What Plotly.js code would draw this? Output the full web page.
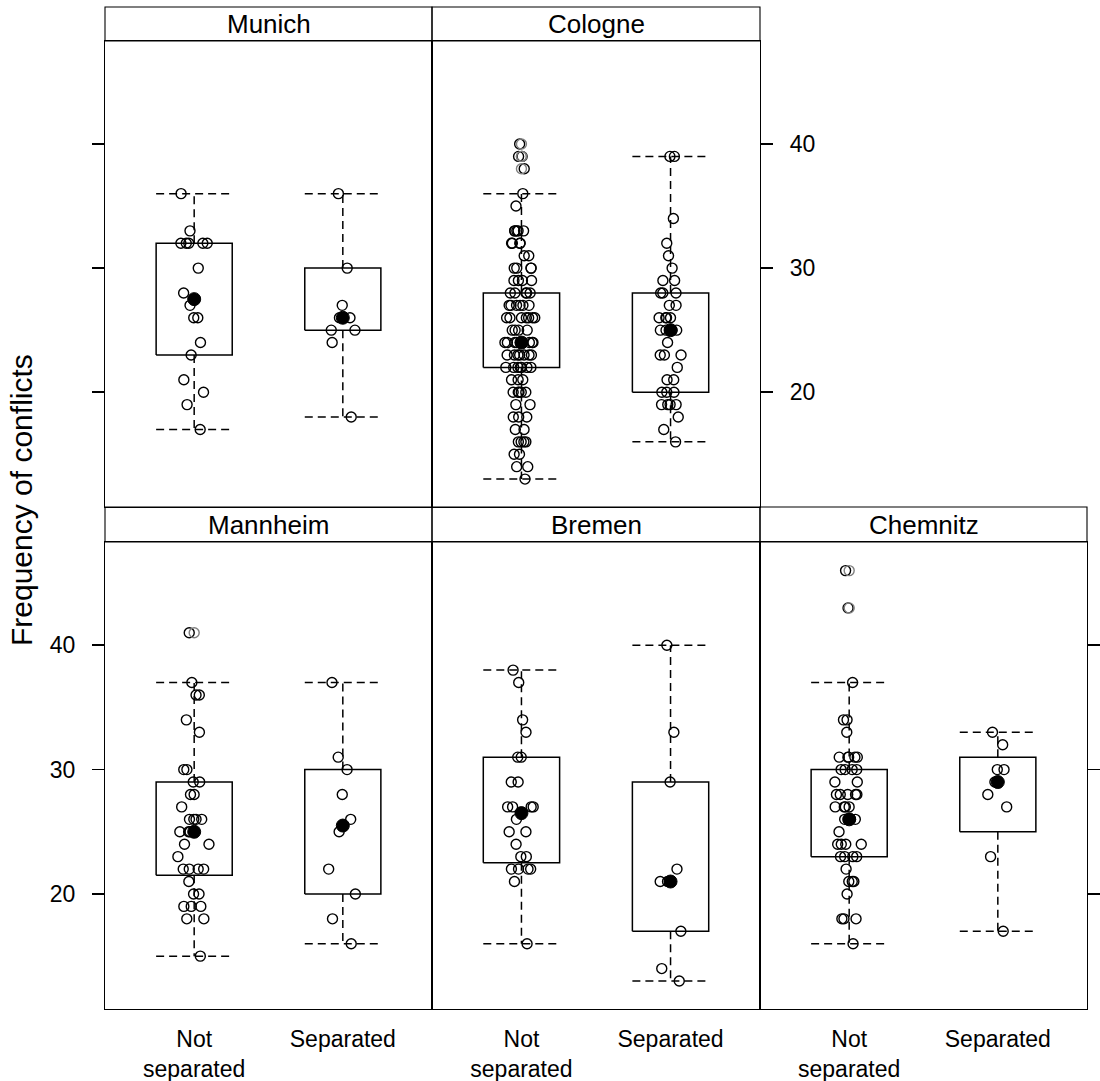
<!DOCTYPE html>
<html>
<head>
<meta charset="utf-8">
<script src="https://cdn.plot.ly/plotly-3.0.1.min.js"></script>
<style>
  html, body { margin: 0; padding: 0; background: #fff; }
  #chart { width: 1100px; height: 1081px; }
</style>
</head>
<body>
<div id="chart"></div>
<script>
// Panels, in drawing order
const cities = ["Munich", "Cologne", "Mannheim", "Bremen", "Chemnitz"];
const groupLabels = ["Not<br>separated", "Separated"];
const groupPos = [1, 2];
const yTicks = [20, 30, 40];

// Frequency of conflicts reported by each couple
const munichNot = [36, 33, 32, 32, 32, 32, 32, 30, 28, 27, 26, 26, 24, 23, 21, 20, 19, 17];
const munichSep = [36, 30, 27, 26, 26, 25, 25, 24, 18];
const cologneNot = [40, 39, 39, 38, 36, 35,
  33, 33, 33, 33, 33, 32, 32, 32, 32, 31, 31, 30, 30, 30, 30,
  29, 29, 29, 29, 28, 28, 28, 28, 28, 27, 27, 27, 27, 27, 27,
  26, 26, 26, 26, 26, 26, 26, 25, 25, 25, 25,
  24, 24, 24, 24, 24, 24, 24, 24, 23, 23, 23, 23, 23, 23, 23,
  22, 22, 22, 22, 22, 22, 22, 21, 21, 21, 20, 20, 20, 20, 20,
  19, 19, 18, 18, 18, 17, 17, 16, 16, 16, 16, 15, 15, 14, 14, 13];
const cologneSep = [39, 39, 34, 32, 31, 30, 29, 29, 28, 28, 28, 27, 27, 26, 26, 26, 26,
  25, 25, 25, 25, 25, 24, 23, 23, 23, 22, 21, 21, 20, 20, 20, 19, 19, 19, 19, 18, 17, 16];
const mannheimNot = [41, 37, 36, 36, 34, 33, 30, 30, 29, 29, 28, 28, 27, 26, 26, 26, 26,
  25, 25, 25, 24, 24, 23, 22, 22, 22, 22, 21, 20, 20, 19, 19, 19, 18, 18, 15];
const mannheimSep = [37, 31, 30, 28, 26, 25, 22, 20, 18, 16];
const bremenNot = [38, 37, 34, 33, 31, 31, 29, 29, 27, 27, 27, 27, 26, 25, 25, 24,
  23, 23, 22, 22, 22, 22, 21, 16];
const bremenSep = [40, 33, 29, 22, 21, 21, 17, 14, 13];
const chemnitzNot = [46, 43, 37, 34, 34, 33, 31, 31, 31, 31, 31, 30, 30, 30, 30, 29, 29,
  28, 28, 28, 28, 28, 27, 27, 27, 27, 26, 26, 26, 26, 25, 24, 24, 24, 24,
  23, 23, 23, 23, 22, 21, 21, 21, 20, 18, 18, 18, 16];
const chemnitzSep = [33, 32, 30, 30, 29, 28, 27, 23, 17];

// Box summaries per city: [not separated, separated]
const whiskerLow  = [[17, 18], [13, 16], [15, 16], [16, 13], [16, 17]];
const hingeLow    = [[23, 25], [22, 20], [21.5, 20], [22.5, 17], [23, 25]];
const medians     = [[27.5, 26], [24, 25], [25, 25.5], [26.5, 21], [26, 29]];
const hingeHigh   = [[32, 30], [28, 28], [29, 30], [31, 29], [30, 31]];
const whiskerHigh = [[36, 36], [36, 39], [37, 37], [38, 40], [37, 33]];

const counts = [
  [munichNot, munichSep],
  [cologneNot, cologneSep],
  [mannheimNot, mannheimSep],
  [bremenNot, bremenSep],
  [chemnitzNot, chemnitzSep]
];

// ---- page geometry (pixels) ----
const W = 1100, H = 1081;
const FONT = "Liberation Sans, Arial, Helvetica, sans-serif";
const cols = [[105, 432], [432, 760], [760, 1087]];
const rows = [
  { strip: [7, 41], body: [41, 507] },
  { strip: [507, 542], body: [542, 1009] }
];
const cells = [[0, 0], [0, 1], [1, 0], [1, 1], [1, 2]];   // [row, col] of each city
const yTickSetup = [
  { ticks: "outside", side: "left", labels: false },
  { ticks: "outside", side: "right", labels: true },
  { ticks: "outside", side: "left", labels: true },
  { ticks: "", side: "left", labels: false },
  { ticks: "outside", side: "right", labels: false }
];
const halfBox = 0.256;
const LINE_W = 1.5;
const FRAME_W = 1.1;

const px = v => v / W;
const py = v => 1 - v / H;

const traces = [];
const layout = {
  width: W, height: H,
  margin: { l: 0, r: 0, t: 0, b: 0 },
  paper_bgcolor: "#fff", plot_bgcolor: "#fff",
  showlegend: false,
  font: { family: FONT, color: "#000" },
  shapes: [], annotations: []
};

cities.forEach((city, k) => {
  const [r, c] = cells[k];
  const s = k === 0 ? "" : String(k + 1);
  const tick = yTickSetup[k];

  layout["xaxis" + s] = {
    domain: [px(cols[c][0]), px(cols[c][1])],
    anchor: "y" + s, type: "linear", range: [0.4, 2.6],
    showgrid: false, zeroline: false,
    showline: true, mirror: true, linecolor: "#000", linewidth: FRAME_W,
    ticks: "", tickvals: groupPos, ticktext: groupLabels,
    showticklabels: r === 1, ticklabelstandoff: 9,
    tickfont: { family: FONT, size: 23, color: "#000" }
  };
  layout["yaxis" + s] = {
    domain: [py(rows[r].body[1]), py(rows[r].body[0])],
    anchor: "x" + s, type: "linear", range: [10.75, 48.3],
    showgrid: false, zeroline: false,
    showline: true, mirror: true, linecolor: "#000", linewidth: FRAME_W,
    ticks: tick.ticks, side: tick.side, ticklen: 12, tickwidth: LINE_W, tickcolor: "#000",
    tickvals: yTicks, showticklabels: tick.labels, ticklabelstandoff: 12,
    tickfont: { family: FONT, size: 23, color: "#000" }
  };

  // strip with the city name
  layout.shapes.push({
    type: "rect", xref: "paper", yref: "paper",
    x0: px(cols[c][0]), x1: px(cols[c][1]),
    y0: py(rows[r].strip[1]), y1: py(rows[r].strip[0]),
    line: { color: "#000", width: FRAME_W }, fillcolor: "rgba(0,0,0,0)"
  });
  layout.annotations.push({
    xref: "paper", yref: "paper", showarrow: false,
    x: px((cols[c][0] + cols[c][1]) / 2), y: py((rows[r].strip[0] + rows[r].strip[1]) / 2),
    xanchor: "center", yanchor: "middle",
    text: city, font: { family: FONT, size: 26, color: "#000" }
  });

  const xa = "x" + s, ya = "y" + s;
  groupPos.forEach((pos, g) => {
    const q1 = hingeLow[k][g], q3 = hingeHigh[k][g];
    const lo = whiskerLow[k][g], hi = whiskerHigh[k][g];
    const vals = counts[k][g];

    // box between the hinges
    traces.push({
      type: "scatter", mode: "lines", xaxis: xa, yaxis: ya, hoverinfo: "skip",
      x: [pos - halfBox, pos + halfBox, pos + halfBox, pos - halfBox, pos - halfBox],
      y: [q1, q1, q3, q3, q1],
      line: { color: "#000", width: LINE_W }
    });
    // dashed whiskers and caps
    traces.push({
      type: "scatter", mode: "lines", xaxis: xa, yaxis: ya, hoverinfo: "skip",
      x: [pos, pos, null, pos, pos, null, pos - halfBox, pos + halfBox, null, pos - halfBox, pos + halfBox],
      y: [q3, hi, null, q1, lo, null, hi, hi, null, lo, lo],
      line: { color: "#000", width: LINE_W, dash: "8px,5px" }
    });
    // values beyond the whiskers, on the box axis
    const out = vals.filter(v => v > hi || v < lo);
    if (out.length) {
      traces.push({
        type: "scatter", mode: "markers", xaxis: xa, yaxis: ya,
        x: out.map(() => pos), y: out,
        marker: { symbol: "circle-open", size: 10, color: "#808080", line: { width: 1.4 } }
      });
    }
    // every observation, jittered sideways
    traces.push({
      type: "box", xaxis: xa, yaxis: ya, name: city + " " + g,
      y: vals, x0: pos, width: 0.5,
      boxpoints: "all", jitter: 0.45, pointpos: 0,
      line: { width: 0 }, fillcolor: "rgba(0,0,0,0)",
      marker: { symbol: "circle-open", size: 10, color: "#000", line: { width: 1.4, color: "#000" } }
    });
    // median
    traces.push({
      type: "scatter", mode: "markers", xaxis: xa, yaxis: ya,
      x: [pos], y: [medians[k][g]],
      marker: { symbol: "circle", size: 13, color: "#000", opacity: 1,
                line: { width: 1, color: "#000" } }
    });
  });
});

layout.annotations.push({
  xref: "paper", yref: "paper", showarrow: false,
  x: px(21), y: py(500), xanchor: "center", yanchor: "middle",
  textangle: -90, text: "Frequency of conflicts",
  font: { family: FONT, size: 30, color: "#000" }
});

Plotly.newPlot("chart", traces, layout, { displayModeBar: false, staticPlot: true });
</script>
</body>
</html>
